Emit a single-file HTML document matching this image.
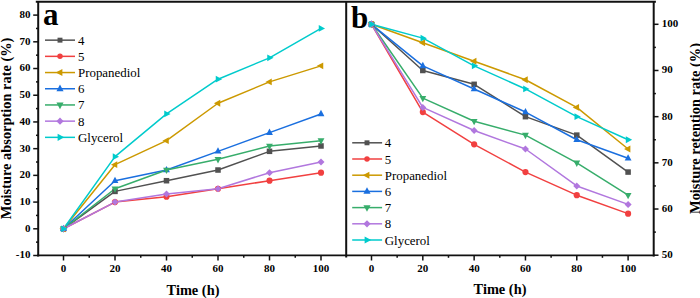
<!DOCTYPE html>
<html><head><meta charset="utf-8"><style>
html,body{margin:0;padding:0;background:#fff;width:700px;height:298px;overflow:hidden}
svg{display:block}
text{font-family:"Liberation Serif",serif;fill:#000}
.tk{font-size:11px;font-weight:bold}
.lg{font-size:12.9px}
.ti{font-size:14.4px;font-weight:bold}
.pl{font-size:31px;font-weight:bold}
</style></head><body>
<svg width="700" height="298" viewBox="0 0 700 298">
<polyline points="63.50,228.79 115.00,191.39 166.50,180.71 218.00,170.02 269.50,151.33 321.00,145.98" fill="none" stroke="#515151" stroke-width="1.5" stroke-linejoin="round"/>
<polyline points="63.50,228.79 115.00,202.08 166.50,196.74 218.00,188.72 269.50,180.71 321.00,172.70" fill="none" stroke="#F14040" stroke-width="1.5" stroke-linejoin="round"/>
<polyline points="63.50,228.79 115.00,164.68 166.50,140.64 218.00,103.25 269.50,81.88 321.00,65.85" fill="none" stroke="#CC9900" stroke-width="1.5" stroke-linejoin="round"/>
<polyline points="63.50,228.79 115.00,180.71 166.50,170.02 218.00,151.33 269.50,132.63 321.00,113.93" fill="none" stroke="#1A6FDF" stroke-width="1.5" stroke-linejoin="round"/>
<polyline points="63.50,228.79 115.00,188.72 166.50,170.02 218.00,159.34 269.50,145.98 321.00,140.64" fill="none" stroke="#37AD6B" stroke-width="1.5" stroke-linejoin="round"/>
<polyline points="63.50,228.79 115.00,202.08 166.50,194.06 218.00,188.72 269.50,172.70 321.00,162.01" fill="none" stroke="#B177DE" stroke-width="1.5" stroke-linejoin="round"/>
<polyline points="63.50,228.79 115.00,156.67 166.50,113.93 218.00,79.21 269.50,57.84 321.00,28.46" fill="none" stroke="#00CBCC" stroke-width="1.5" stroke-linejoin="round"/>
<rect x="60.74" y="226.03" width="5.52" height="5.52" fill="#515151"/>
<rect x="112.24" y="188.63" width="5.52" height="5.52" fill="#515151"/>
<rect x="163.74" y="177.95" width="5.52" height="5.52" fill="#515151"/>
<rect x="215.24" y="167.26" width="5.52" height="5.52" fill="#515151"/>
<rect x="266.74" y="148.56" width="5.52" height="5.52" fill="#515151"/>
<rect x="318.24" y="143.22" width="5.52" height="5.52" fill="#515151"/>
<circle cx="63.50" cy="228.79" r="3.09" fill="#F14040"/>
<circle cx="115.00" cy="202.08" r="3.09" fill="#F14040"/>
<circle cx="166.50" cy="196.74" r="3.09" fill="#F14040"/>
<circle cx="218.00" cy="188.72" r="3.09" fill="#F14040"/>
<circle cx="269.50" cy="180.71" r="3.09" fill="#F14040"/>
<circle cx="321.00" cy="172.70" r="3.09" fill="#F14040"/>
<polygon points="59.44,228.79 65.78,225.38 65.78,232.20" fill="#CC9900"/>
<polygon points="110.94,164.68 117.28,161.27 117.28,168.09" fill="#CC9900"/>
<polygon points="162.44,140.64 168.78,137.23 168.78,144.05" fill="#CC9900"/>
<polygon points="213.94,103.25 220.28,99.83 220.28,106.66" fill="#CC9900"/>
<polygon points="265.44,81.88 271.77,78.47 271.77,85.29" fill="#CC9900"/>
<polygon points="316.94,65.85 323.27,62.44 323.27,69.26" fill="#CC9900"/>
<polygon points="63.50,224.73 66.91,231.06 60.09,231.06" fill="#1A6FDF"/>
<polygon points="115.00,176.65 118.41,182.98 111.59,182.98" fill="#1A6FDF"/>
<polygon points="166.50,165.96 169.91,172.30 163.09,172.30" fill="#1A6FDF"/>
<polygon points="218.00,147.26 221.41,153.60 214.59,153.60" fill="#1A6FDF"/>
<polygon points="269.50,128.57 272.91,134.90 266.09,134.90" fill="#1A6FDF"/>
<polygon points="321.00,109.87 324.41,116.21 317.59,116.21" fill="#1A6FDF"/>
<polygon points="63.50,232.85 66.91,226.51 60.09,226.51" fill="#37AD6B"/>
<polygon points="115.00,192.78 118.41,186.45 111.59,186.45" fill="#37AD6B"/>
<polygon points="166.50,174.09 169.91,167.75 163.09,167.75" fill="#37AD6B"/>
<polygon points="218.00,163.40 221.41,157.06 214.59,157.06" fill="#37AD6B"/>
<polygon points="269.50,150.05 272.91,143.71 266.09,143.71" fill="#37AD6B"/>
<polygon points="321.00,144.70 324.41,138.37 317.59,138.37" fill="#37AD6B"/>
<polygon points="63.50,225.28 67.01,228.79 63.50,232.30 59.99,228.79" fill="#B177DE"/>
<polygon points="115.00,198.57 118.51,202.08 115.00,205.59 111.49,202.08" fill="#B177DE"/>
<polygon points="166.50,190.55 170.01,194.06 166.50,197.57 162.99,194.06" fill="#B177DE"/>
<polygon points="218.00,185.21 221.51,188.72 218.00,192.23 214.49,188.72" fill="#B177DE"/>
<polygon points="269.50,169.19 273.01,172.70 269.50,176.21 265.99,172.70" fill="#B177DE"/>
<polygon points="321.00,158.50 324.51,162.01 321.00,165.52 317.49,162.01" fill="#B177DE"/>
<polygon points="67.56,228.79 61.23,225.38 61.23,232.20" fill="#00CBCC"/>
<polygon points="119.06,156.67 112.72,153.26 112.72,160.08" fill="#00CBCC"/>
<polygon points="170.56,113.93 164.22,110.52 164.22,117.34" fill="#00CBCC"/>
<polygon points="222.06,79.21 215.72,75.79 215.72,82.62" fill="#00CBCC"/>
<polygon points="273.56,57.84 267.23,54.43 267.23,61.25" fill="#00CBCC"/>
<polygon points="325.06,28.46 318.73,25.04 318.73,31.87" fill="#00CBCC"/>
<polyline points="371.50,24.30 422.82,70.48 474.14,84.33 525.46,116.66 576.78,135.13 628.10,172.08" fill="none" stroke="#515151" stroke-width="1.5" stroke-linejoin="round"/>
<polyline points="371.50,24.30 422.82,112.04 474.14,144.37 525.46,172.08 576.78,195.17 628.10,213.64" fill="none" stroke="#F14040" stroke-width="1.5" stroke-linejoin="round"/>
<polyline points="371.50,24.30 422.82,42.77 474.14,61.24 525.46,79.72 576.78,107.42 628.10,148.99" fill="none" stroke="#CC9900" stroke-width="1.5" stroke-linejoin="round"/>
<polyline points="371.50,24.30 422.82,65.86 474.14,88.95 525.46,112.04 576.78,139.75 628.10,158.22" fill="none" stroke="#1A6FDF" stroke-width="1.5" stroke-linejoin="round"/>
<polyline points="371.50,24.30 422.82,98.19 474.14,121.28 525.46,135.13 576.78,162.84 628.10,195.17" fill="none" stroke="#37AD6B" stroke-width="1.5" stroke-linejoin="round"/>
<polyline points="371.50,24.30 422.82,107.42 474.14,130.51 525.46,148.99 576.78,185.93 628.10,204.40" fill="none" stroke="#B177DE" stroke-width="1.5" stroke-linejoin="round"/>
<polyline points="371.50,24.30 422.82,38.15 474.14,65.86 525.46,88.95 576.78,116.66 628.10,139.75" fill="none" stroke="#00CBCC" stroke-width="1.5" stroke-linejoin="round"/>
<rect x="368.74" y="21.54" width="5.52" height="5.52" fill="#515151"/>
<rect x="420.06" y="67.72" width="5.52" height="5.52" fill="#515151"/>
<rect x="471.38" y="81.57" width="5.52" height="5.52" fill="#515151"/>
<rect x="522.70" y="113.90" width="5.52" height="5.52" fill="#515151"/>
<rect x="574.02" y="132.37" width="5.52" height="5.52" fill="#515151"/>
<rect x="625.34" y="169.31" width="5.52" height="5.52" fill="#515151"/>
<circle cx="371.50" cy="24.30" r="3.09" fill="#F14040"/>
<circle cx="422.82" cy="112.04" r="3.09" fill="#F14040"/>
<circle cx="474.14" cy="144.37" r="3.09" fill="#F14040"/>
<circle cx="525.46" cy="172.08" r="3.09" fill="#F14040"/>
<circle cx="576.78" cy="195.17" r="3.09" fill="#F14040"/>
<circle cx="628.10" cy="213.64" r="3.09" fill="#F14040"/>
<polygon points="367.44,24.30 373.77,20.89 373.77,27.71" fill="#CC9900"/>
<polygon points="418.76,42.77 425.09,39.36 425.09,46.18" fill="#CC9900"/>
<polygon points="470.08,61.24 476.41,57.83 476.41,64.66" fill="#CC9900"/>
<polygon points="521.40,79.72 527.74,76.30 527.74,83.13" fill="#CC9900"/>
<polygon points="572.72,107.42 579.05,104.01 579.05,110.84" fill="#CC9900"/>
<polygon points="624.04,148.99 630.37,145.57 630.37,152.40" fill="#CC9900"/>
<polygon points="371.50,20.24 374.91,26.58 368.09,26.58" fill="#1A6FDF"/>
<polygon points="422.82,61.80 426.23,68.14 419.41,68.14" fill="#1A6FDF"/>
<polygon points="474.14,84.89 477.55,91.23 470.73,91.23" fill="#1A6FDF"/>
<polygon points="525.46,107.98 528.87,114.32 522.05,114.32" fill="#1A6FDF"/>
<polygon points="576.78,135.69 580.19,142.03 573.37,142.03" fill="#1A6FDF"/>
<polygon points="628.10,154.16 631.51,160.50 624.69,160.50" fill="#1A6FDF"/>
<polygon points="371.50,28.36 374.91,22.03 368.09,22.03" fill="#37AD6B"/>
<polygon points="422.82,102.25 426.23,95.91 419.41,95.91" fill="#37AD6B"/>
<polygon points="474.14,125.34 477.55,119.00 470.73,119.00" fill="#37AD6B"/>
<polygon points="525.46,139.19 528.87,132.86 522.05,132.86" fill="#37AD6B"/>
<polygon points="576.78,166.90 580.19,160.56 573.37,160.56" fill="#37AD6B"/>
<polygon points="628.10,199.23 631.51,192.89 624.69,192.89" fill="#37AD6B"/>
<polygon points="371.50,20.79 375.01,24.30 371.50,27.81 367.99,24.30" fill="#B177DE"/>
<polygon points="422.82,103.91 426.33,107.42 422.82,110.93 419.31,107.42" fill="#B177DE"/>
<polygon points="474.14,127.00 477.65,130.51 474.14,134.02 470.63,130.51" fill="#B177DE"/>
<polygon points="525.46,145.48 528.97,148.99 525.46,152.50 521.95,148.99" fill="#B177DE"/>
<polygon points="576.78,182.42 580.29,185.93 576.78,189.44 573.27,185.93" fill="#B177DE"/>
<polygon points="628.10,200.89 631.61,204.40 628.10,207.91 624.59,204.40" fill="#B177DE"/>
<polygon points="375.56,24.30 369.23,20.89 369.23,27.71" fill="#00CBCC"/>
<polygon points="426.88,38.15 420.55,34.74 420.55,41.57" fill="#00CBCC"/>
<polygon points="478.20,65.86 471.87,62.45 471.87,69.27" fill="#00CBCC"/>
<polygon points="529.52,88.95 523.19,85.54 523.19,92.36" fill="#00CBCC"/>
<polygon points="580.84,116.66 574.50,113.25 574.50,120.07" fill="#00CBCC"/>
<polygon points="632.16,139.75 625.82,136.34 625.82,143.16" fill="#00CBCC"/>
<line x1="45" y1="40.15" x2="75" y2="40.15" stroke="#515151" stroke-width="1.5"/>
<rect x="57.53" y="37.69" width="4.93" height="4.93" fill="#515151"/>
<text x="78" y="44.65" class="lg">4</text>
<line x1="45" y1="56.35" x2="75" y2="56.35" stroke="#F14040" stroke-width="1.5"/>
<circle cx="60.00" cy="56.35" r="2.75" fill="#F14040"/>
<text x="78" y="60.85" class="lg">5</text>
<line x1="45" y1="72.55" x2="75" y2="72.55" stroke="#CC9900" stroke-width="1.5"/>
<polygon points="55.75,72.55 62.38,68.98 62.38,76.12" fill="#CC9900"/>
<text x="78" y="77.05" class="lg">Propanediol</text>
<line x1="45" y1="88.75" x2="75" y2="88.75" stroke="#1A6FDF" stroke-width="1.5"/>
<polygon points="60.00,84.50 63.57,91.13 56.43,91.13" fill="#1A6FDF"/>
<text x="78" y="93.25" class="lg">6</text>
<line x1="45" y1="104.95" x2="75" y2="104.95" stroke="#37AD6B" stroke-width="1.5"/>
<polygon points="60.00,109.20 63.57,102.57 56.43,102.57" fill="#37AD6B"/>
<text x="78" y="109.45" class="lg">7</text>
<line x1="45" y1="121.15" x2="75" y2="121.15" stroke="#B177DE" stroke-width="1.5"/>
<polygon points="60.00,117.48 63.67,121.15 60.00,124.82 56.33,121.15" fill="#B177DE"/>
<text x="78" y="125.65" class="lg">8</text>
<line x1="45" y1="137.35" x2="75" y2="137.35" stroke="#00CBCC" stroke-width="1.5"/>
<polygon points="64.25,137.35 57.62,133.78 57.62,140.92" fill="#00CBCC"/>
<text x="78" y="141.85" class="lg">Glycerol</text>
<line x1="352.2" y1="142.80" x2="382.1" y2="142.80" stroke="#515151" stroke-width="1.5"/>
<rect x="364.54" y="140.34" width="4.93" height="4.93" fill="#515151"/>
<text x="384.8" y="147.30" class="lg">4</text>
<line x1="352.2" y1="159.00" x2="382.1" y2="159.00" stroke="#F14040" stroke-width="1.5"/>
<circle cx="367.00" cy="159.00" r="2.75" fill="#F14040"/>
<text x="384.8" y="163.50" class="lg">5</text>
<line x1="352.2" y1="175.20" x2="382.1" y2="175.20" stroke="#CC9900" stroke-width="1.5"/>
<polygon points="362.75,175.20 369.38,171.63 369.38,178.77" fill="#CC9900"/>
<text x="384.8" y="179.70" class="lg">Propanediol</text>
<line x1="352.2" y1="191.40" x2="382.1" y2="191.40" stroke="#1A6FDF" stroke-width="1.5"/>
<polygon points="367.00,187.15 370.57,193.78 363.43,193.78" fill="#1A6FDF"/>
<text x="384.8" y="195.90" class="lg">6</text>
<line x1="352.2" y1="207.60" x2="382.1" y2="207.60" stroke="#37AD6B" stroke-width="1.5"/>
<polygon points="367.00,211.85 370.57,205.22 363.43,205.22" fill="#37AD6B"/>
<text x="384.8" y="212.10" class="lg">7</text>
<line x1="352.2" y1="223.80" x2="382.1" y2="223.80" stroke="#B177DE" stroke-width="1.5"/>
<polygon points="367.00,220.13 370.67,223.80 367.00,227.47 363.33,223.80" fill="#B177DE"/>
<text x="384.8" y="228.30" class="lg">8</text>
<line x1="352.2" y1="240.00" x2="382.1" y2="240.00" stroke="#00CBCC" stroke-width="1.5"/>
<polygon points="371.25,240.00 364.62,236.43 364.62,243.57" fill="#00CBCC"/>
<text x="384.8" y="244.50" class="lg">Glycerol</text>
<line x1="35.8" y1="1.75" x2="655.9" y2="1.75" stroke="#111" stroke-width="2"/>
<line x1="38.2" y1="1.75" x2="38.2" y2="256.5" stroke="#111" stroke-width="2"/>
<line x1="346.2" y1="1.75" x2="346.2" y2="257.5" stroke="#111" stroke-width="2"/>
<line x1="653.7" y1="1.75" x2="653.7" y2="256.5" stroke="#111" stroke-width="2"/>
<line x1="37.2" y1="255.4" x2="654.7" y2="255.4" stroke="#111" stroke-width="1.7"/>
<line x1="33.2" y1="255.50" x2="38.2" y2="255.50" stroke="#111" stroke-width="1.5"/>
<text x="30.5" y="258.40" class="tk" text-anchor="end">-10</text>
<line x1="36" y1="242.14" x2="38.2" y2="242.14" stroke="#111" stroke-width="1.5"/>
<line x1="33.2" y1="228.79" x2="38.2" y2="228.79" stroke="#111" stroke-width="1.5"/>
<text x="30.5" y="231.69" class="tk" text-anchor="end">0</text>
<line x1="36" y1="215.43" x2="38.2" y2="215.43" stroke="#111" stroke-width="1.5"/>
<line x1="33.2" y1="202.08" x2="38.2" y2="202.08" stroke="#111" stroke-width="1.5"/>
<text x="30.5" y="204.98" class="tk" text-anchor="end">10</text>
<line x1="36" y1="188.72" x2="38.2" y2="188.72" stroke="#111" stroke-width="1.5"/>
<line x1="33.2" y1="175.37" x2="38.2" y2="175.37" stroke="#111" stroke-width="1.5"/>
<text x="30.5" y="178.27" class="tk" text-anchor="end">20</text>
<line x1="36" y1="162.01" x2="38.2" y2="162.01" stroke="#111" stroke-width="1.5"/>
<line x1="33.2" y1="148.66" x2="38.2" y2="148.66" stroke="#111" stroke-width="1.5"/>
<text x="30.5" y="151.56" class="tk" text-anchor="end">30</text>
<line x1="36" y1="135.30" x2="38.2" y2="135.30" stroke="#111" stroke-width="1.5"/>
<line x1="33.2" y1="121.94" x2="38.2" y2="121.94" stroke="#111" stroke-width="1.5"/>
<text x="30.5" y="124.84" class="tk" text-anchor="end">40</text>
<line x1="36" y1="108.59" x2="38.2" y2="108.59" stroke="#111" stroke-width="1.5"/>
<line x1="33.2" y1="95.23" x2="38.2" y2="95.23" stroke="#111" stroke-width="1.5"/>
<text x="30.5" y="98.13" class="tk" text-anchor="end">50</text>
<line x1="36" y1="81.88" x2="38.2" y2="81.88" stroke="#111" stroke-width="1.5"/>
<line x1="33.2" y1="68.52" x2="38.2" y2="68.52" stroke="#111" stroke-width="1.5"/>
<text x="30.5" y="71.42" class="tk" text-anchor="end">60</text>
<line x1="36" y1="55.17" x2="38.2" y2="55.17" stroke="#111" stroke-width="1.5"/>
<line x1="33.2" y1="41.81" x2="38.2" y2="41.81" stroke="#111" stroke-width="1.5"/>
<text x="30.5" y="44.71" class="tk" text-anchor="end">70</text>
<line x1="36" y1="28.46" x2="38.2" y2="28.46" stroke="#111" stroke-width="1.5"/>
<line x1="33.2" y1="15.10" x2="38.2" y2="15.10" stroke="#111" stroke-width="1.5"/>
<text x="30.5" y="18.00" class="tk" text-anchor="end">80</text>
<line x1="63.50" y1="255.5" x2="63.50" y2="260.5" stroke="#111" stroke-width="1.5"/>
<text x="63.50" y="272.1" class="tk" text-anchor="middle">0</text>
<line x1="89.25" y1="255.5" x2="89.25" y2="257.8" stroke="#111" stroke-width="1.5"/>
<line x1="115.00" y1="255.5" x2="115.00" y2="260.5" stroke="#111" stroke-width="1.5"/>
<text x="115.00" y="272.1" class="tk" text-anchor="middle">20</text>
<line x1="140.75" y1="255.5" x2="140.75" y2="257.8" stroke="#111" stroke-width="1.5"/>
<line x1="166.50" y1="255.5" x2="166.50" y2="260.5" stroke="#111" stroke-width="1.5"/>
<text x="166.50" y="272.1" class="tk" text-anchor="middle">40</text>
<line x1="192.25" y1="255.5" x2="192.25" y2="257.8" stroke="#111" stroke-width="1.5"/>
<line x1="218.00" y1="255.5" x2="218.00" y2="260.5" stroke="#111" stroke-width="1.5"/>
<text x="218.00" y="272.1" class="tk" text-anchor="middle">60</text>
<line x1="243.75" y1="255.5" x2="243.75" y2="257.8" stroke="#111" stroke-width="1.5"/>
<line x1="269.50" y1="255.5" x2="269.50" y2="260.5" stroke="#111" stroke-width="1.5"/>
<text x="269.50" y="272.1" class="tk" text-anchor="middle">80</text>
<line x1="295.25" y1="255.5" x2="295.25" y2="257.8" stroke="#111" stroke-width="1.5"/>
<line x1="321.00" y1="255.5" x2="321.00" y2="260.5" stroke="#111" stroke-width="1.5"/>
<text x="321.00" y="272.1" class="tk" text-anchor="middle">100</text>
<line x1="371.50" y1="255.5" x2="371.50" y2="260.5" stroke="#111" stroke-width="1.5"/>
<text x="371.50" y="272.1" class="tk" text-anchor="middle">0</text>
<line x1="397.16" y1="255.5" x2="397.16" y2="257.8" stroke="#111" stroke-width="1.5"/>
<line x1="422.82" y1="255.5" x2="422.82" y2="260.5" stroke="#111" stroke-width="1.5"/>
<text x="422.82" y="272.1" class="tk" text-anchor="middle">20</text>
<line x1="448.48" y1="255.5" x2="448.48" y2="257.8" stroke="#111" stroke-width="1.5"/>
<line x1="474.14" y1="255.5" x2="474.14" y2="260.5" stroke="#111" stroke-width="1.5"/>
<text x="474.14" y="272.1" class="tk" text-anchor="middle">40</text>
<line x1="499.80" y1="255.5" x2="499.80" y2="257.8" stroke="#111" stroke-width="1.5"/>
<line x1="525.46" y1="255.5" x2="525.46" y2="260.5" stroke="#111" stroke-width="1.5"/>
<text x="525.46" y="272.1" class="tk" text-anchor="middle">60</text>
<line x1="551.12" y1="255.5" x2="551.12" y2="257.8" stroke="#111" stroke-width="1.5"/>
<line x1="576.78" y1="255.5" x2="576.78" y2="260.5" stroke="#111" stroke-width="1.5"/>
<text x="576.78" y="272.1" class="tk" text-anchor="middle">80</text>
<line x1="602.44" y1="255.5" x2="602.44" y2="257.8" stroke="#111" stroke-width="1.5"/>
<line x1="628.10" y1="255.5" x2="628.10" y2="260.5" stroke="#111" stroke-width="1.5"/>
<text x="628.10" y="272.1" class="tk" text-anchor="middle">100</text>
<line x1="653.7" y1="255.20" x2="658.5" y2="255.20" stroke="#111" stroke-width="1.5"/>
<text x="661.8" y="258.20" class="tk">50</text>
<line x1="653.7" y1="232.11" x2="655.9" y2="232.11" stroke="#111" stroke-width="1.5"/>
<line x1="653.7" y1="209.02" x2="658.5" y2="209.02" stroke="#111" stroke-width="1.5"/>
<text x="661.8" y="212.02" class="tk">60</text>
<line x1="653.7" y1="185.93" x2="655.9" y2="185.93" stroke="#111" stroke-width="1.5"/>
<line x1="653.7" y1="162.84" x2="658.5" y2="162.84" stroke="#111" stroke-width="1.5"/>
<text x="661.8" y="165.84" class="tk">70</text>
<line x1="653.7" y1="139.75" x2="655.9" y2="139.75" stroke="#111" stroke-width="1.5"/>
<line x1="653.7" y1="116.66" x2="658.5" y2="116.66" stroke="#111" stroke-width="1.5"/>
<text x="661.8" y="119.66" class="tk">80</text>
<line x1="653.7" y1="93.57" x2="655.9" y2="93.57" stroke="#111" stroke-width="1.5"/>
<line x1="653.7" y1="70.48" x2="658.5" y2="70.48" stroke="#111" stroke-width="1.5"/>
<text x="661.8" y="73.48" class="tk">90</text>
<line x1="653.7" y1="47.39" x2="655.9" y2="47.39" stroke="#111" stroke-width="1.5"/>
<line x1="653.7" y1="24.30" x2="658.5" y2="24.30" stroke="#111" stroke-width="1.5"/>
<text x="661.8" y="27.30" class="tk">100</text>
<text x="193" y="294.7" class="ti" text-anchor="middle">Time (h)</text>
<text x="500" y="294" class="ti" text-anchor="middle">Time (h)</text>
<text transform="translate(11.1,128.4) rotate(-90)" class="ti" text-anchor="middle">Moisture absorption rate (%)</text>
<text transform="translate(699.9,128.5) rotate(-90)" class="ti" text-anchor="middle">Moisture retention rate (%)</text>
<text x="43" y="24.6" class="pl">a</text>
<text x="351" y="28.2" class="pl">b</text>
</svg></body></html>
